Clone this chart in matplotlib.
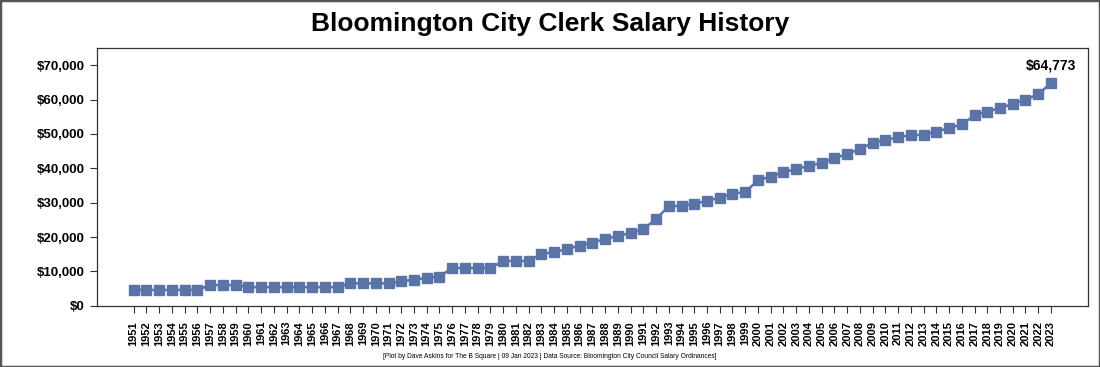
import numpy as np
import matplotlib
matplotlib.use("Agg")
from matplotlib import pyplot as plt
from matplotlib.ticker import FuncFormatter
from matplotlib.patches import Rectangle
from matplotlib import font_manager

# Salary by year
years = list(range(1951, 2024))
salary = [
	4600, 4600, 4600, 4600, 4600, 4600,          # 1951-1956
	6000, 6000, 6000,                            # 1957-1959
	5400, 5400, 5400, 5400, 5400, 5400, 5400, 5400,  # 1960-1967
	6500, 6500, 6500, 6500,                      # 1968-1971
	7100, 7600, 8100, 8500,                      # 1972-1975
	11000, 11000, 11000, 11000,                  # 1976-1979
	13000, 13000, 13000,                         # 1980-1982
	15100, 15600, 16500, 17500, 18400, 19400, 20300, 21200, 22200,  # 1983-1991
	25300, 28900, 29100, 29700, 30500, 31500, 32600, 33100,          # 1992-1999
	36500, 37600, 38800, 39800, 40700, 41500, 43000, 44100, 45700,  # 2000-2008
	47300, 48300, 49000, 49700, 49700, 50700, 51700, 52800,          # 2009-2016
	55400, 56500, 57500, 58800, 59900, 61600, 64773,                 # 2017-2023
]
yticks = [0, 10000, 20000, 30000, 40000, 50000, 60000, 70000]

title = "Bloomington City Clerk Salary History"
footer = "[Plot by Dave Askins for The B Square | 09 Jan 2023 | Data Source: Bloomington City Council Salary Ordinances]"

plt.rcParams['font.family'] = ['Liberation Sans', 'DejaVu Sans']

# narrow face for the title if it is there
names = set(f.name for f in font_manager.fontManager.ttflist)
narrow = 'Liberation Sans Narrow' if 'Liberation Sans Narrow' in names else 'Liberation Sans'
title_size = 22 if narrow == 'Liberation Sans Narrow' else 19

fig = plt.figure(figsize=(11, 3.67), dpi=100)
ax = fig.add_axes([0.088, 0.167, 0.901, 0.702])

color = '#5b74a8'
ax.plot(years, salary, color=color, linewidth=1.8, marker='s', markersize=6.8,
	markerfacecolor=color, markeredgecolor=color)

# label the last value
ax.annotate("${:,.0f}".format(salary[-1]), (years[-1], salary[-1]),
	xytext=(0, 8), textcoords='offset points', ha='center', va='bottom',
	fontsize=10, fontweight='bold')

ax.set_xlim(1948.1, 2025.9)
ax.set_ylim(0, 75000)
ax.set_xticks(years)
ax.set_xticklabels([str(y) for y in years], rotation=90, fontsize=8, fontweight='bold')
ax.set_yticks(yticks)
ax.yaxis.set_major_formatter(FuncFormatter(lambda v, p: "${:,.0f}".format(v)))
for lbl in ax.get_yticklabels():
	lbl.set_fontweight('bold')
	lbl.set_fontsize(9.5)
ax.tick_params(axis='both', length=5, width=0.8, color='#333333')
ax.tick_params(axis='x', pad=6)
for s in ax.spines.values():
	s.set_linewidth(0.9)
	s.set_color('#333333')

fig.text(0.5, 0.935, title, ha='center', va='center', fontsize=title_size,
	fontweight='bold', family=[narrow, 'DejaVu Sans'])
fig.text(0.5, 0.028, footer, ha='center', va='center', fontsize=4.8)

# grey frame round the whole picture
fig.patches.append(Rectangle((0, 0), 1, 1, transform=fig.transFigure, fill=False,
	edgecolor='#555555', linewidth=2.5))

fig.savefig("out.png", dpi=100)
